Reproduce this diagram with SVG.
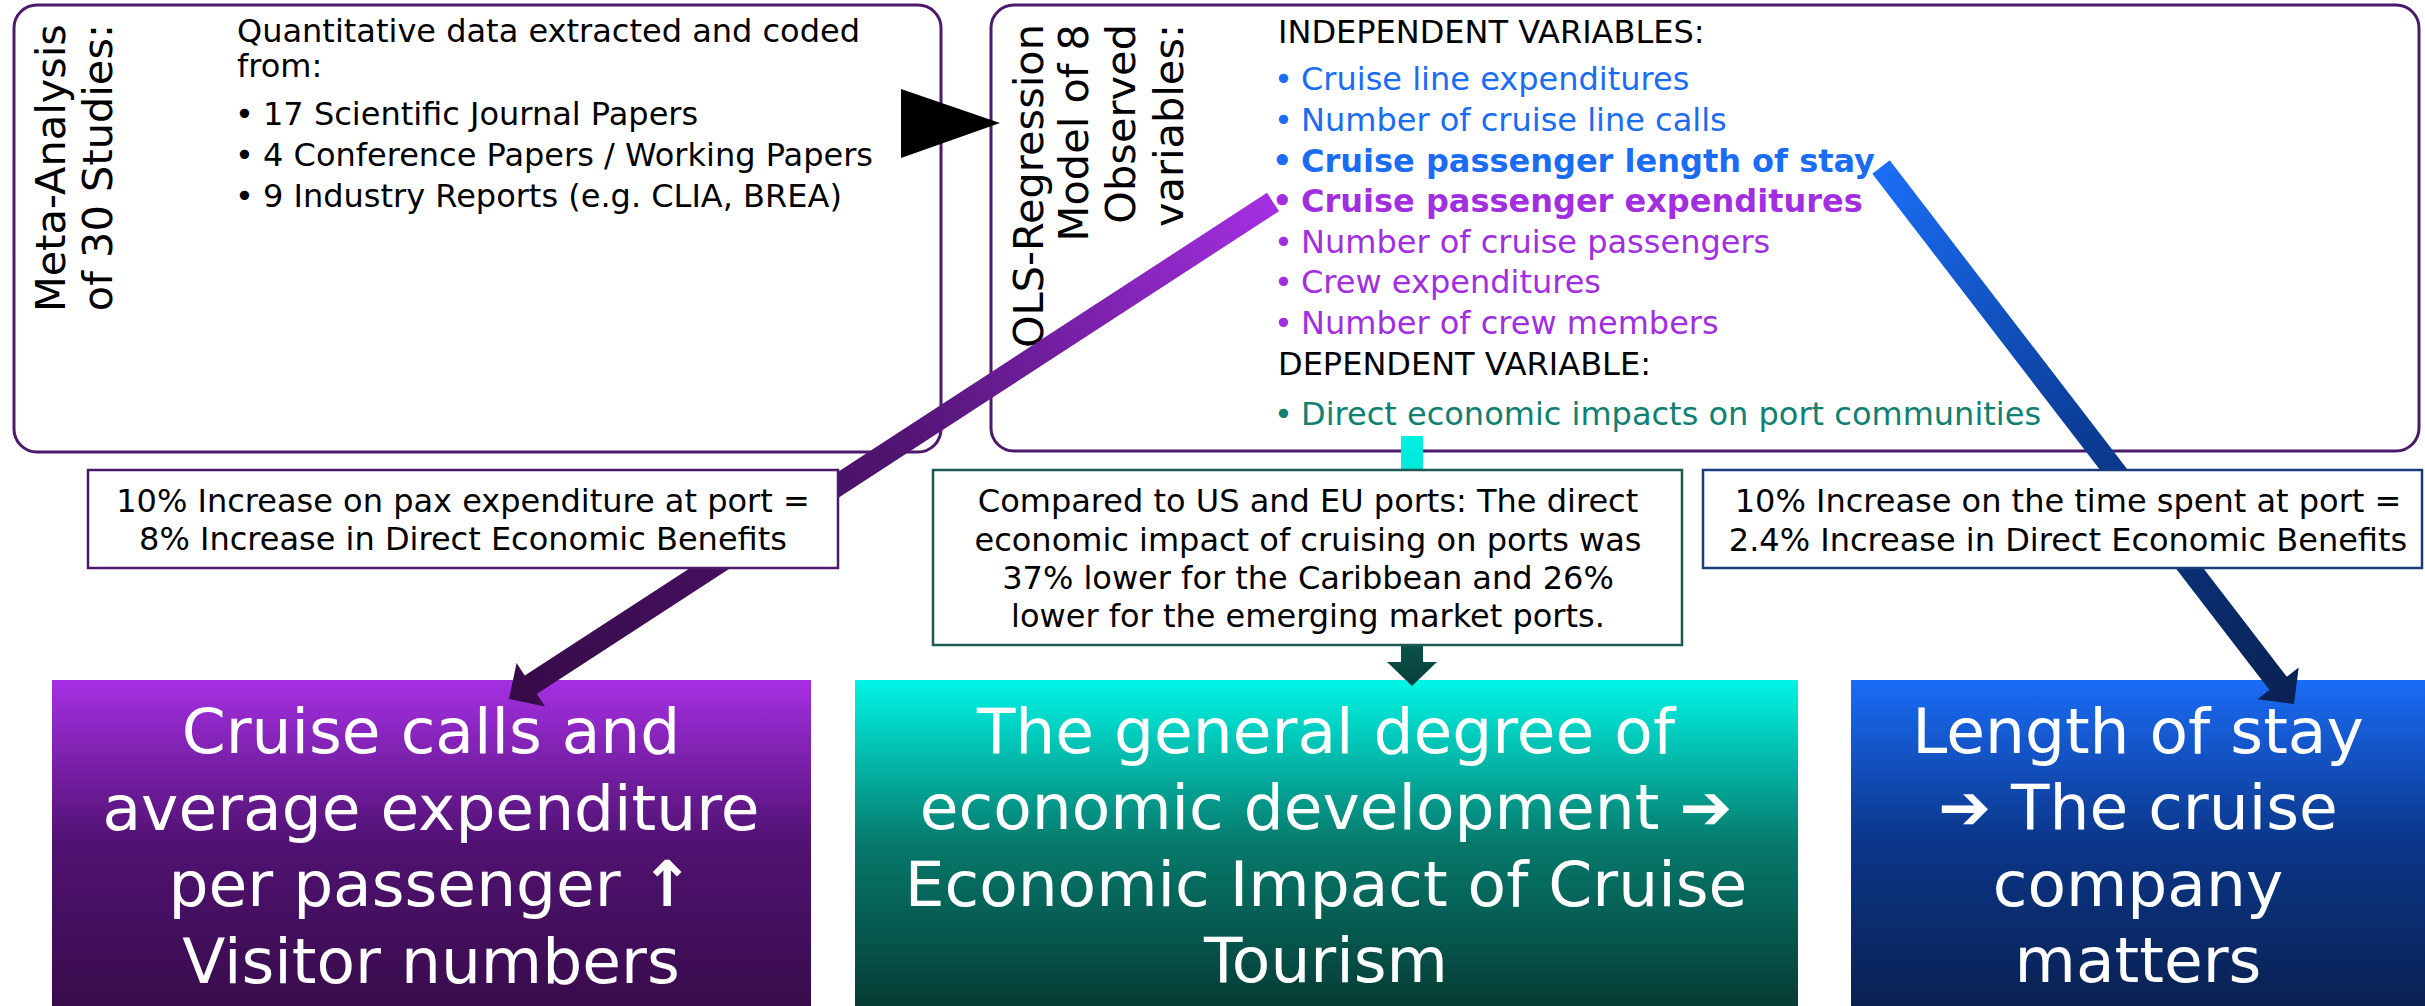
<svg xmlns="http://www.w3.org/2000/svg" width="2425" height="1006" viewBox="0 0 2425 1006">
<style>
text { font-family: "DejaVu Sans", Verdana, sans-serif; }
.box { fill: #fff; stroke: #4b1a6b; stroke-width: 3; }
.title { font-size: 41.5px; fill: #000; text-anchor: end; }
.body { font-size: 32px; fill: #000; }
.blue { fill: #1a6cf3; }
.purp { fill: #a22fdf; }
.teal { fill: #0f8072; }
.b { font-weight: bold; }
.lbl { fill: #fff; stroke-width: 2.5; }
.lt { font-size: 32px; fill: #000; text-anchor: middle; }
.big { font-size: 63px; fill: #fff; text-anchor: middle; }
</style>
<defs>
<linearGradient id="gPurpBox" x1="0" y1="0" x2="0" y2="1">
<stop offset="0" stop-color="#a52fe3"/><stop offset="0.5" stop-color="#501272"/><stop offset="1" stop-color="#380c4b"/>
</linearGradient>
<linearGradient id="gTealBox" x1="0" y1="0" x2="0" y2="1">
<stop offset="0" stop-color="#00f5e6"/><stop offset="0.5" stop-color="#067a6c"/><stop offset="1" stop-color="#063c35"/>
</linearGradient>
<linearGradient id="gBlueBox" x1="0" y1="0" x2="0" y2="1">
<stop offset="0" stop-color="#1a6cf6"/><stop offset="0.5" stop-color="#0b3689"/><stop offset="1" stop-color="#0a2152"/>
</linearGradient>
<linearGradient id="gPurpLine" gradientUnits="userSpaceOnUse" x1="1273" y1="202" x2="509" y2="699">
<stop offset="0" stop-color="#a42fe2"/><stop offset="0.5" stop-color="#4f1470"/><stop offset="1" stop-color="#360b48"/>
</linearGradient>
<linearGradient id="gBlueLine" gradientUnits="userSpaceOnUse" x1="1881" y1="167" x2="2294" y2="704">
<stop offset="0" stop-color="#1a6ef6"/><stop offset="0.5" stop-color="#0b3c95"/><stop offset="1" stop-color="#0a2152"/>
</linearGradient>
<linearGradient id="gTealLine" gradientUnits="userSpaceOnUse" x1="0" y1="436" x2="0" y2="686">
<stop offset="0" stop-color="#00f0e2"/><stop offset="0.15" stop-color="#00e6da"/><stop offset="0.85" stop-color="#0a5048"/><stop offset="1" stop-color="#07403a"/>
</linearGradient>
</defs>

<g id="meta-analysis">
<rect class="box" x="14" y="5" width="927" height="447" rx="23"/>
<text class="title" transform="translate(65,24) rotate(-90)">Meta-Analysis</text>
<text class="title" transform="translate(112,24) rotate(-90)">of 30 Studies:</text>
<text class="body" x="237" y="42">Quantitative data extracted and coded</text>
<text class="body" x="237" y="77">from:</text>
<text class="body" x="235" y="125">•</text><text class="body" x="263" y="125">17 Scientific Journal Papers</text>
<text class="body" x="235" y="166">•</text><text class="body" x="263" y="166">4 Conference Papers / Working Papers</text>
<text class="body" x="235" y="207">•</text><text class="body" x="263" y="207">9 Industry Reports (e.g. CLIA, BREA)</text>
</g>

<g id="ols-regression">
<rect class="box" x="991" y="5" width="1428" height="446" rx="23"/>
<text class="title" transform="translate(1043,24) rotate(-90)">OLS-Regression</text>
<text class="title" transform="translate(1088,24) rotate(-90)">Model of 8</text>
<text class="title" transform="translate(1135,24) rotate(-90)">Observed</text>
<text class="title" transform="translate(1183,24) rotate(-90)">variables:</text>
<text class="body" x="1278" y="43">INDEPENDENT VARIABLES:</text>
<text class="body blue" x="1274" y="90">•</text><text class="body blue" x="1301" y="90">Cruise line expenditures</text>
<text class="body blue" x="1274" y="131">•</text><text class="body blue" x="1301" y="131">Number of cruise line calls</text>
<text class="body blue b" x="1272" y="172">•</text><text class="body blue b" x="1301" y="172">Cruise passenger length of stay</text>
<text class="body purp b" x="1272" y="212">•</text><text class="body purp b" x="1301" y="212">Cruise passenger expenditures</text>
<text class="body purp" x="1274" y="253">•</text><text class="body purp" x="1301" y="253">Number of cruise passengers</text>
<text class="body purp" x="1274" y="293">•</text><text class="body purp" x="1301" y="293">Crew expenditures</text>
<text class="body purp" x="1274" y="334">•</text><text class="body purp" x="1301" y="334">Number of crew members</text>
<text class="body" x="1278" y="375">DEPENDENT VARIABLE:</text>
<text class="body teal" x="1274" y="425">•</text><text class="body teal" x="1301" y="425">Direct economic impacts on port communities</text>
</g>

<g id="visitor-numbers">
<rect x="52" y="680" width="759" height="326" fill="url(#gPurpBox)"/>
<text class="big" x="431" y="753">Cruise calls and</text>
<text class="big" x="431" y="830">average expenditure</text>
<text class="big" x="431" y="906">per passenger <tspan font-weight="bold">↑</tspan></text>
<text class="big" x="431" y="983">Visitor numbers</text>
</g>

<g id="economic-development">
<rect x="855" y="680" width="943" height="326" fill="url(#gTealBox)"/>
<text class="big" x="1326" y="753">The general degree of</text>
<text class="big" x="1326" y="829">economic development ➔</text>
<text class="big" x="1326" y="906">Economic Impact of Cruise</text>
<text class="big" x="1326" y="982">Tourism</text>
</g>

<g id="length-of-stay">
<rect x="1851" y="680" width="574" height="326" fill="url(#gBlueBox)"/>
<text class="big" x="2138" y="753">Length of stay</text>
<text class="big" x="2138" y="829">➔ The cruise</text>
<text class="big" x="2138" y="906">company</text>
<text class="big" x="2138" y="982">matters</text>
</g>

<g id="connectors">
<polygon points="901,89 901,158 1000,123" fill="#000"/>
<polygon points="1267,192.8 524.8,675.6 516.6,663 509,699 545,706.6 536.8,694 1279,211.2" fill="url(#gPurpLine)"/>
<polygon points="1872.3,173.7 2269.4,690.1 2257.5,699.3 2294,704 2298.7,667.5 2286.8,676.7 1889.7,160.3" fill="url(#gBlueLine)"/>
<polygon points="1401,436 1401,662 1387,662 1412,686 1437,662 1423,662 1423,436" fill="url(#gTealLine)"/>
</g>

<g id="label-expenditure">
<rect class="lbl" x="88" y="470" width="750" height="98" stroke="#4b1a6b"/>
<text class="lt" x="463" y="512">10% Increase on pax expenditure at port =</text>
<text class="lt" x="463" y="550">8% Increase in Direct Economic Benefits</text>
</g>

<g id="label-comparison">
<rect class="lbl" x="933" y="470" width="749" height="175" stroke="#1d5a52"/>
<text class="lt" x="1308" y="512">Compared to US and EU ports: The direct</text>
<text class="lt" x="1308" y="551">economic impact of cruising on ports was</text>
<text class="lt" x="1308" y="589">37% lower for the Caribbean and 26%</text>
<text class="lt" x="1308" y="627">lower for the emerging market ports.</text>
</g>

<g id="label-time">
<rect class="lbl" x="1703" y="470" width="719" height="98" stroke="#1a3c7c"/>
<text class="lt" x="2068" y="512">10% Increase on the time spent at port =</text>
<text class="lt" x="2068" y="551">2.4% Increase in Direct Economic Benefits</text>
</g>
</svg>
